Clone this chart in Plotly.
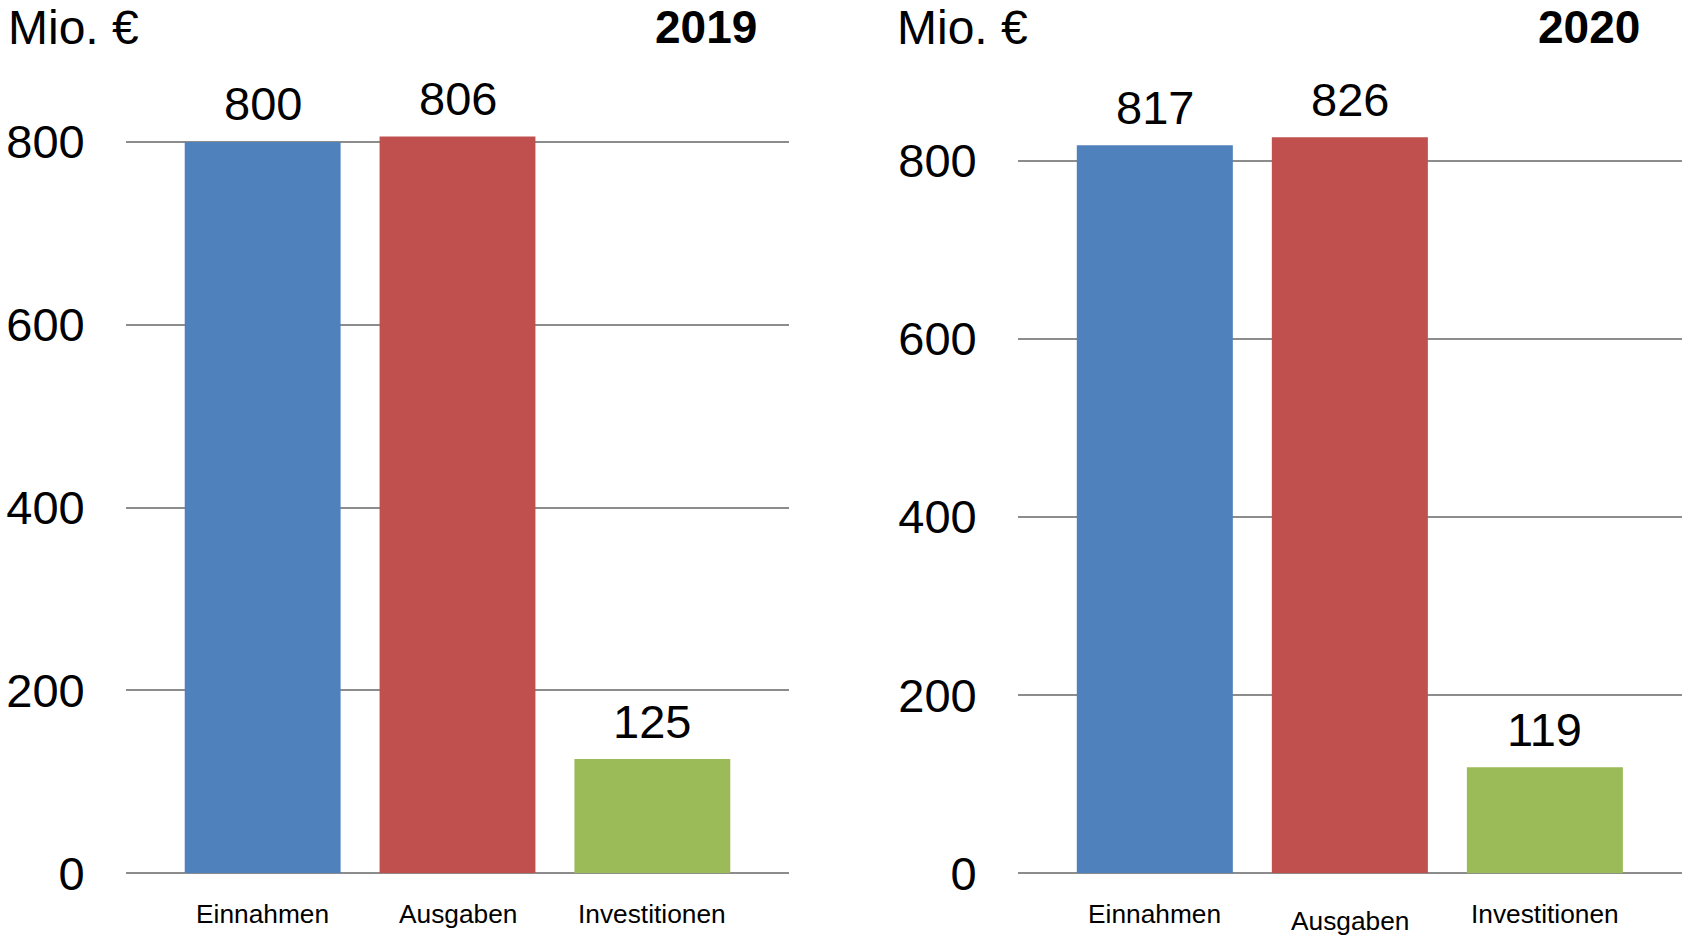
import plotly.graph_objects as go

categories = ["Einnahmen", "Ausgaben", "Investitionen"]
values_2019 = [800, 806, 125]
values_2020 = [817, 826, 119]
years = ["2019", "2020"]
unit_label = "Mio. €"
y_ticks = [0, 200, 400, 600, 800]
colors = ["#4F81BD", "#C0504D", "#9BBB59"]

FONT = "Liberation Sans, Arial, sans-serif"
BIG = 47
SMALL = 26.3
GRID = "#8C8C8C"
W, H = 1682, 936

fig = go.Figure()

panels = [
    dict(vals=values_2019, x="x", y="y", xa="xaxis", ya="yaxis",
         xdom=[125.7 / W, 789.3 / W], ydom=[(H - 873.3) / H, 0.9461],
         label_shift=[0, 0, 0]),
    dict(vals=values_2020, x="x2", y="y2", xa="xaxis2", ya="yaxis2",
         xdom=[1017.7 / W, 1.0], ydom=[(H - 873.3) / H, 0.9237],
         label_shift=[0, 7, 0]),
]

xpos = list(range(len(categories)))

for p in panels:
    fig.add_trace(go.Bar(
        x=xpos, y=p["vals"], marker=dict(color=colors, line=dict(width=0)),
        width=0.80, xaxis=p["x"], yaxis=p["y"], showlegend=False,
        hoverinfo="skip",
    ))
    for xi, v in zip(xpos, p["vals"]):
        fig.add_annotation(x=xi, y=v, xref=p["x"], yref=p["y"], text=str(v),
                           showarrow=False, yanchor="middle", yshift=38,
                           font=dict(family=FONT, size=BIG, color="black"))
    for xi, cat, sh in zip(xpos, categories, p["label_shift"]):
        fig.add_annotation(x=xi, y=0, xref=p["x"], yref=p["y"], text=cat,
                           showarrow=False, yanchor="middle", yshift=-41 - sh,
                           font=dict(family=FONT, size=SMALL, color="black"))
    fig.update_layout(**{
        p["xa"]: dict(domain=p["xdom"], range=[-0.703, 2.703],
                      tickvals=xpos, showticklabels=False, showgrid=False,
                      zeroline=False, showline=False, ticks="",
                      automargin=False, fixedrange=True, anchor=p["y"]),
        p["ya"]: dict(domain=p["ydom"], range=[0, 900], tickvals=y_ticks,
                      showgrid=True, gridcolor=GRID, gridwidth=2,
                      zeroline=True, zerolinecolor=GRID, zerolinewidth=2,
                      showline=False, ticks="", ticklabelstandoff=40,
                      tickfont=dict(family=FONT, size=BIG, color="black"),
                      automargin=False, anchor=p["x"], fixedrange=True),
    })

# headers
head_y = 1 - 27 / H
fig.add_annotation(x=6 / W, y=head_y, xref="paper", yref="paper",
                   text=unit_label, showarrow=False, xanchor="left", yanchor="middle",
                   font=dict(family=FONT, size=48, color="black"))
fig.add_annotation(x=759 / W, y=head_y, xref="paper", yref="paper",
                   text="<b>" + years[0] + "</b>", showarrow=False, xanchor="right",
                   yanchor="middle", font=dict(family=FONT, size=46, color="black"))
fig.add_annotation(x=895 / W, y=head_y, xref="paper", yref="paper",
                   text=unit_label, showarrow=False, xanchor="left", yanchor="middle",
                   font=dict(family=FONT, size=48, color="black"))
fig.add_annotation(x=1642 / W, y=head_y, xref="paper", yref="paper",
                   text="<b>" + years[1] + "</b>", showarrow=False, xanchor="right",
                   yanchor="middle", font=dict(family=FONT, size=46, color="black"))

fig.update_layout(
    width=W, height=H,
    margin=dict(l=0, r=0, t=0, b=0, autoexpand=False),
    paper_bgcolor="white", plot_bgcolor="white",
    bargap=0.2,
    font=dict(family=FONT, color="black"),
)

fig.write_html(
    "out.html",
    config={"displayModeBar": False},
    post_script="document.body.style.margin='0';document.body.style.overflow='hidden';",
)
